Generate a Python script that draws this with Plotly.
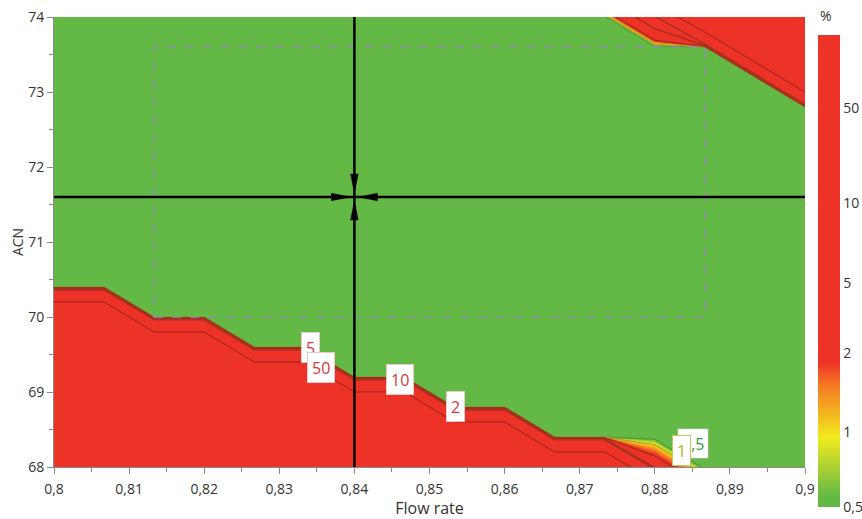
import numpy as np
import plotly.graph_objects as go

# ---------------- data ----------------
flow_rate = [0.8, 0.80667, 0.81333, 0.82, 0.82667, 0.83333, 0.84, 0.84667,
             0.85333, 0.86, 0.86667, 0.87333, 0.88, 0.88667, 0.89333, 0.9]
acn = [68.0, 68.4, 68.8, 69.2, 69.6, 70.0, 70.4, 70.8,
       71.2, 71.6, 72.0, 72.4, 72.8, 73.2, 73.6, 74.0]

# value in % on the grid (rows: ACN, columns: flow rate)
row_680 = [100, 100, 100, 100, 100, 100, 100, 100, 100, 100, 100, 100, 3, 0.3, 0.3, 0.3]
row_684 = [100, 100, 100, 100, 100, 100, 100, 100, 100, 100, 0.3, 0.3, 0.3, 0.3, 0.3, 0.3]
row_688 = [100, 100, 100, 100, 100, 100, 100, 100, 0.3, 0.3, 0.3, 0.3, 0.3, 0.3, 0.3, 0.3]
row_692 = [100, 100, 100, 100, 100, 100, 0.3, 0.3, 0.3, 0.3, 0.3, 0.3, 0.3, 0.3, 0.3, 0.3]
row_696 = [100, 100, 100, 100, 0.3, 0.3, 0.3, 0.3, 0.3, 0.3, 0.3, 0.3, 0.3, 0.3, 0.3, 0.3]
row_700 = [100, 100, 0.3, 0.3, 0.3, 0.3, 0.3, 0.3, 0.3, 0.3, 0.3, 0.3, 0.3, 0.3, 0.3, 0.3]
row_704 = [0.3, 0.3, 0.3, 0.3, 0.3, 0.3, 0.3, 0.3, 0.3, 0.3, 0.3, 0.3, 0.3, 0.3, 0.3, 0.3]
row_708 = [0.3, 0.3, 0.3, 0.3, 0.3, 0.3, 0.3, 0.3, 0.3, 0.3, 0.3, 0.3, 0.3, 0.3, 0.3, 0.3]
row_712 = [0.3, 0.3, 0.3, 0.3, 0.3, 0.3, 0.3, 0.3, 0.3, 0.3, 0.3, 0.3, 0.3, 0.3, 0.3, 0.3]
row_716 = [0.3, 0.3, 0.3, 0.3, 0.3, 0.3, 0.3, 0.3, 0.3, 0.3, 0.3, 0.3, 0.3, 0.3, 0.3, 0.3]
row_720 = [0.3, 0.3, 0.3, 0.3, 0.3, 0.3, 0.3, 0.3, 0.3, 0.3, 0.3, 0.3, 0.3, 0.3, 0.3, 0.3]
row_724 = [0.3, 0.3, 0.3, 0.3, 0.3, 0.3, 0.3, 0.3, 0.3, 0.3, 0.3, 0.3, 0.3, 0.3, 0.3, 0.3]
row_728 = [0.3, 0.3, 0.3, 0.3, 0.3, 0.3, 0.3, 0.3, 0.3, 0.3, 0.3, 0.3, 0.3, 0.3, 0.3, 0.3]
row_732 = [0.3, 0.3, 0.3, 0.3, 0.3, 0.3, 0.3, 0.3, 0.3, 0.3, 0.3, 0.3, 0.3, 0.3, 0.3, 100]
row_736 = [0.3, 0.3, 0.3, 0.3, 0.3, 0.3, 0.3, 0.3, 0.3, 0.3, 0.3, 0.3, 0.3, 0.3, 100, 100]
row_740 = [0.3, 0.3, 0.3, 0.3, 0.3, 0.3, 0.3, 0.3, 0.3, 0.3, 0.3, 0.3, 8, 100, 100, 100]
value_pct = [row_680, row_684, row_688, row_692, row_696, row_700, row_704, row_708,
             row_712, row_716, row_720, row_724, row_728, row_732, row_736, row_740]

# contour levels drawn as lines
line_levels = [0.5, 1, 2, 5, 10, 50]
line_colors = ["#4e9a35", "#a5a02a", "#9c3020", "#9c3020", "#9c3020", "#a8271f"]

# colour bar ticks (value -> fraction of bar height)
cb_vals = [0.5, 1, 2, 5, 10, 50, 100]
cb_pos = [0.0, 0.159, 0.326, 0.475, 0.644, 0.845, 1.0]
cb_tick_vals = [0.5, 1, 2, 5, 10, 50]
cb_tick_text = ["0,5", "1", "2", "5", "10", "50"]

# colour anchors (value, colour)
col_vals = [0.5, 0.55, 0.95, 1.5, 1.85, 100]
col_cols = ["#64b946", "#64b946", "#f2ea1e", "#f37a22", "#ed3228", "#ed3228"]

# set point / crosshair and design space
cross_x = 0.84
cross_y = 71.6
rect_x = [0.81333, 0.88667]
rect_y = [70.0, 73.6]

# contour labels
label_text = ["5", "50", "10", "2", "0,5", "1"]
label_x = [0.83409, 0.83549, 0.84607, 0.85346, 0.88502, 0.88349]
label_y = [69.587, 69.333, 69.173, 68.807, 68.32, 68.22]
label_color = ["#d3393a", "#d3393a", "#d3393a", "#d3393a", "#3a9d3a", "#b3b02c"]
label_border = ["#e8c8c8", "#e8c8c8", "#e8c8c8", "#e8c8c8", "#7cc46a", "#c9c65a"]

# ---------------- figure ----------------
FONT = "Open Sans"
z = np.array(value_pct, dtype=float)

c_start, c_end, c_size = 0.5, 2.5, 0.05
lo, hi = c_start - c_size / 2, c_end + c_size / 2
main_scale = [[0.0, col_cols[0]]]
for v, c in zip(col_vals, col_cols):
    p = (v - lo) / (hi - lo)
    if 0 < p < 1:
        main_scale.append([p, c])
main_scale.append([1.0, col_cols[-1]])

fig = go.Figure()
fig.add_trace(go.Contour(
    x=flow_rate, y=acn, z=z,
    contours=dict(coloring="fill", start=c_start, end=c_end, size=c_size),
    colorscale=main_scale, showscale=False,
    line=dict(width=0, smoothing=0), hoverinfo="skip",
))

for lev, lc in zip(line_levels, line_colors):
    fig.add_trace(go.Contour(
        x=flow_rate, y=acn, z=z,
        contours=dict(coloring="none", start=lev, end=lev, size=1),
        line=dict(color=lc, width=1.2, smoothing=0),
        showscale=False, hoverinfo="skip",
    ))

# colour bar (position space)
lcv = np.log10(cb_vals)
def to_pos(v):
    return float(np.interp(np.log10(v), lcv, cb_pos))
cb_scale = []
for v, c in zip(col_vals, col_cols):
    cb_scale.append([to_pos(v), c])
cb_scale[0][0] = 0.0
cb_scale[-1][0] = 1.0

fig.add_trace(go.Scatter(
    x=[flow_rate[0], flow_rate[0]], y=[acn[0], acn[0]], mode="markers",
    marker=dict(size=0, color=[0, 1], cmin=0, cmax=1, colorscale=cb_scale,
                showscale=True,
                colorbar=dict(
                    lenmode="pixels", len=472, thicknessmode="pixels", thickness=22,
                    x=1.0173, xanchor="left", y=0.4349, yanchor="middle",
                    xpad=0, ypad=0, outlinewidth=0, ticks="", ticklabeloverflow="allow",
                    tickvals=[to_pos(v) for v in cb_tick_vals], ticktext=cb_tick_text,
                    tickfont=dict(family=FONT, size=14, color="#333333"),
                )),
    hoverinfo="skip", showlegend=False,
))

shapes = []
# design space rectangle
shapes.append(dict(type="rect", xref="x", yref="y", x0=rect_x[0], x1=rect_x[1],
                   y0=rect_y[0], y1=rect_y[1],
                   line=dict(color="#8e8fa8", width=1.6, dash="dash"), layer="above"))
# crosshair
shapes.append(dict(type="line", xref="x", yref="paper", x0=cross_x, x1=cross_x, y0=0, y1=1,
                   line=dict(color="black", width=2.5), layer="above"))
shapes.append(dict(type="line", xref="paper", yref="y", x0=0, x1=1, y0=cross_y, y1=cross_y,
                   line=dict(color="black", width=2.5), layer="above"))
# arrow heads pointing to the set point (glyphs in pixels)
hl, hw, gap = 19, 3.8, 4
glyphs = [
    f"M {-hw},{gap + hl} L {hw},{gap + hl} L 0,{gap} Z",
    f"M {-hw},{-gap - hl} L {hw},{-gap - hl} L 0,{-gap} Z",
    f"M {-gap - hl},{-hw} L {-gap - hl},{hw} L {-gap},0 Z",
    f"M {gap + hl},{-hw} L {gap + hl},{hw} L {gap},0 Z",
]
for g in glyphs:
    shapes.append(dict(type="path", xref="x", yref="y", xsizemode="pixel", ysizemode="pixel",
                       xanchor=cross_x, yanchor=cross_y, path=g,
                       fillcolor="black", line=dict(color="black", width=0.5), layer="above"))

annotations = []
for t, lx, ly, tc, bc in zip(label_text, label_x, label_y, label_color, label_border):
    annotations.append(dict(x=lx, y=ly, xref="x", yref="y", text=t, showarrow=False,
                            font=dict(family=FONT, size=16, color=tc), height=21,
                            bgcolor="white", bordercolor=bc, borderwidth=1, borderpad=4))
annotations.append(dict(x=1.0173, y=1.0044, xref="paper", yref="paper", text="%",
                        showarrow=False, xanchor="left", yanchor="middle",
                        font=dict(family=FONT, size=14, color="#333333")))

axis_common = dict(showline=True, linecolor="#8a8a8a", linewidth=1, ticks="outside",
                   ticklen=6, tickcolor="#8a8a8a", showgrid=False, zeroline=False,
                   ticklabeloverflow="allow",
                   tickfont=dict(family=FONT, size=14, color="#333333"))

fig.update_layout(
    width=862, height=519,
    margin=dict(l=54, r=57, t=17, b=52, autoexpand=False),
    paper_bgcolor="white", plot_bgcolor="white",
    separators=", ",
    font=dict(family=FONT, color="#333333"),
    xaxis=dict(range=[0.8, 0.9], dtick=0.01, tick0=0.8, ticklabelstandoff=3,
               minor=dict(dtick=0.005, ticks="outside", ticklen=4, tickcolor="#8a8a8a"),
               title=dict(text="Flow rate", font=dict(family=FONT, size=16, color="#333333"),
                          standoff=8),
               **axis_common),
    yaxis=dict(range=[68, 74], dtick=1, tick0=68,
               minor=dict(dtick=0.5, ticks="outside", ticklen=4, tickcolor="#8a8a8a"),
               title=dict(text="ACN", font=dict(family=FONT, size=14, color="#333333"),
                          standoff=1),
               **axis_common),
    shapes=shapes, annotations=annotations, showlegend=False,
)

# remove the page's default body margin so the figure fills the window exactly
fig.write_html("out.html", config={"displayModeBar": False},
               post_script="document.body.style.margin='0';document.body.style.overflow='hidden';")
